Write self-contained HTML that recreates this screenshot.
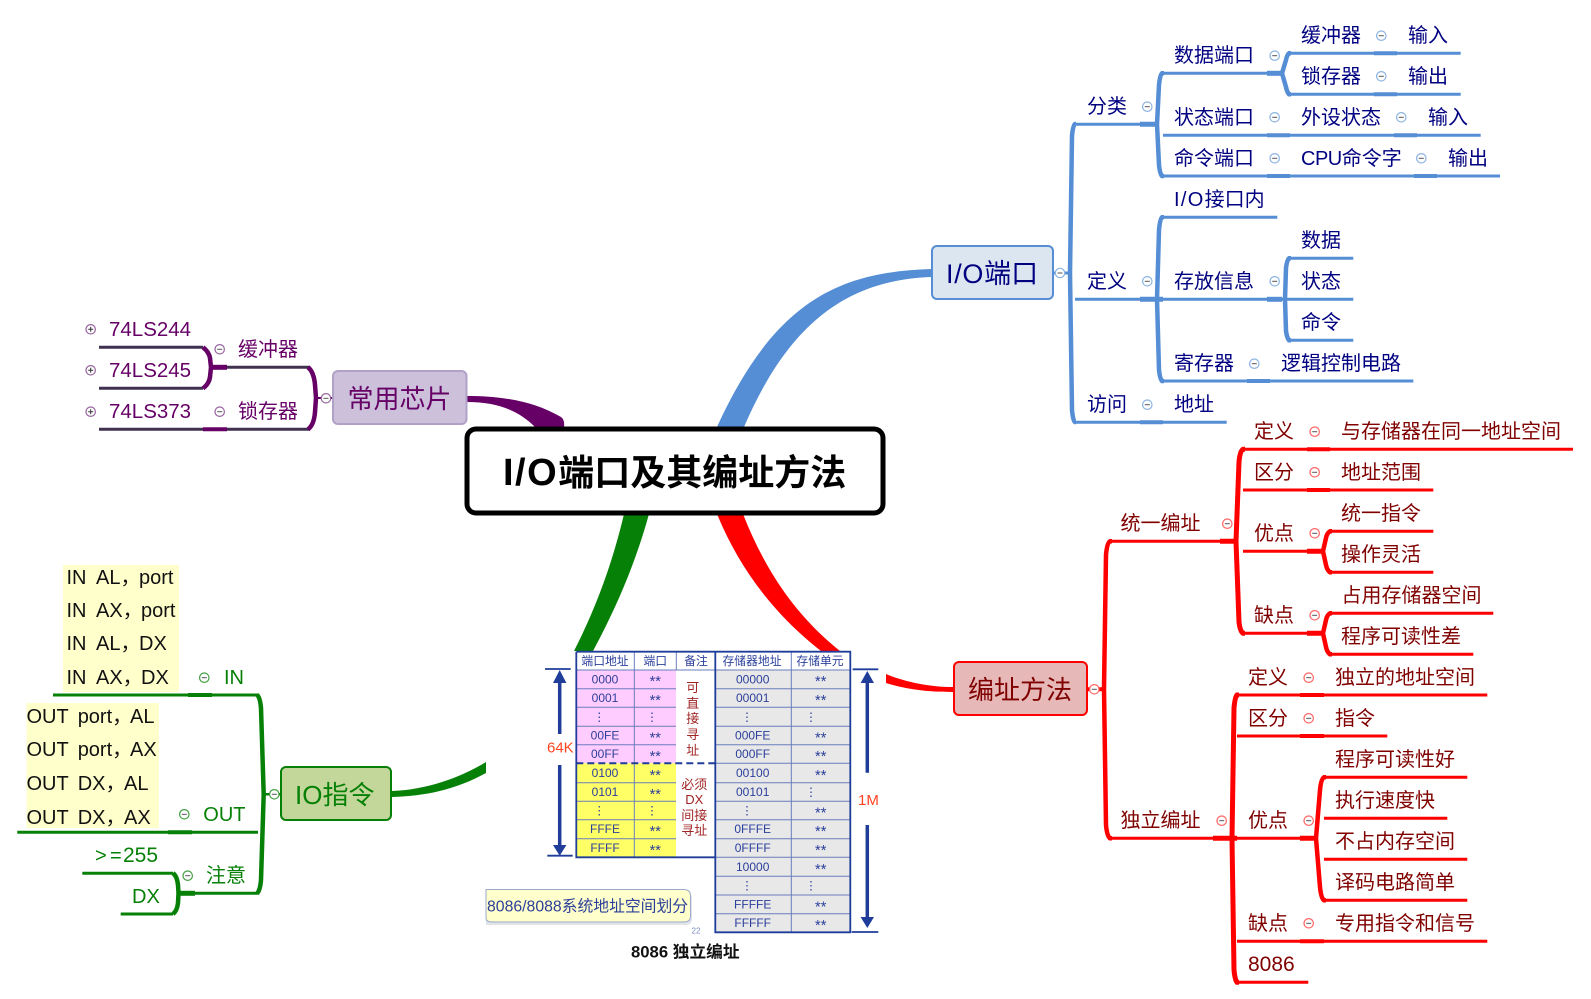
<!DOCTYPE html>
<html><head><meta charset="utf-8"><style>
html,body{margin:0;padding:0;background:#fff}
svg{display:block}
text{font-family:"Liberation Sans","Noto Sans CJK SC",sans-serif}
.tb text{font-size:20px;fill:#000080}
.tr text{font-size:20px;fill:#800000}
.tg text{font-size:20px;fill:#078007}
.tp text{font-size:20px;fill:#660066}
.tk text{font-size:20px;fill:#111}
.lb path{fill:none;stroke:#558ED5;stroke-width:3}
.lr path{fill:none;stroke:#FF0000;stroke-width:3}
.lg path{fill:none;stroke:#078007;stroke-width:3}
.lp path{fill:none;stroke:#403151;stroke-width:3}
.n{font-size:12px;fill:#2b3f9b;text-anchor:middle}
.a{font-size:14.5px;fill:#2b3f9b;text-anchor:middle}
.h{font-size:11.8px;fill:#2b3f9b;text-anchor:middle}
.m{font-size:13px;fill:#a02525;text-anchor:middle}
</style></head><body>
<svg width="1591" height="999" viewBox="0 0 1591 999" xmlns="http://www.w3.org/2000/svg">
<defs>
<g id="m"><circle r="4.7" fill="#fff" stroke="currentColor" stroke-width="1.2"/><path d="M-2.5 0H2.5" stroke="#555" stroke-width="1"/></g>
<g id="p"><circle r="4.7" fill="#fff" stroke="currentColor" stroke-width="1.2"/><path d="M-2.5 0H2.5M0 -2.5V2.5" stroke="#333" stroke-width="1"/></g>
</defs>

<!-- main connectors -->
<path d="M931 269C840 272 775 300 717 427L744 427C790 320 850 280 931 277Z" fill="#558ED5"/>
<path d="M467 396C505 396 535 402 561 417Q565 420 564 427L535 427C520 412 500 402 467 402Z" fill="#660066"/>
<path d="M624 514L649 514C635 565 615 610 593 651L574 651C595 610 612 565 624 514Z" fill="#078007"/>
<path d="M392 791C425 790 460 778 486 762L486 773C455 790 425 796 392 797Z" fill="#078007"/>
<path d="M717 514L743 514C765 570 795 615 840 651L821 651C775 615 740 570 717 514Z" fill="#FF0000"/>
<path d="M886 674C905 682 930 687 953 687L953 692C925 692 905 689 886 683Z" fill="#FF0000"/>

<!-- center -->
<rect x="467" y="429" width="416" height="84" rx="9" fill="#fff" stroke="#000" stroke-width="5"/>
<text x="503" y="485" font-size="36" font-weight="bold" fill="#000"><tspan font-size="38" letter-spacing="1.5">I/O</tspan>端口及其编址方法</text>

<!-- BLUE -->
<rect x="932" y="246" width="121" height="53" rx="5" fill="#DCE6F1" stroke="#558ED5" stroke-width="2"/>
<text x="946" y="283" font-size="27" fill="#000080"><tspan letter-spacing=".7">I/O</tspan>端口</text>
<g class="lb">
<path d="M1053 273H1070"/>
<path d="M1076 124H1075Q1073 125 1072 136L1070 273L1072 410Q1073 421 1075 422H1076" style="stroke-width:4.5"/>
<path d="M1075 124.300H1157M1075 299.300H1157M1075 422.300H1226.700"/>
<path d="M1140 124.300H1157M1140 299.300H1163" style="stroke-width:5"/>
<path d="M1140 422.300H1163" style="stroke-width:4"/>
<path d="M1164 73.300H1162Q1160 75 1159 85L1157 124.300L1159 165Q1160 174 1162 176H1164" style="stroke-width:4.500"/>
<path d="M1164 217.300H1162Q1160 219 1159 230L1157 299.300L1159 370Q1160 379 1162 381H1164" style="stroke-width:4.500"/>
<path d="M1163 73.300H1282"/><path d="M1267 73.300H1282" style="stroke-width:5"/>
<path d="M1163 135.300H1480.700"/><path d="M1267 135.300H1290M1394 135.300H1417" style="stroke-width:4"/>
<path d="M1163 176H1500"/><path d="M1267 176H1290M1414 176H1437" style="stroke-width:4"/>
<path d="M1163 217.300H1277.300"/>
<path d="M1163 299.300H1353.300"/><path d="M1267 299.300H1282" style="stroke-width:5"/>
<path d="M1163 381H1413.300"/><path d="M1247 381H1270" style="stroke-width:4"/>
<path d="M1291 53.300H1289Q1287 55 1286 60L1282 73.300L1286 87Q1287 92 1289 94.300H1291" style="stroke-width:4.500"/>
<path d="M1290 53.300H1460.700M1290 94.300H1460.700"/><path d="M1374 53.300H1397M1374 94.300H1397" style="stroke-width:4"/>
<path d="M1291 258.300H1289Q1287 260 1286 268L1285 299.300L1286 331Q1287 338 1289 340.300H1291" style="stroke-width:4.500"/>
<path d="M1290 258.300H1353.300M1290 340.300H1353.300"/>
</g>
<g class="tb">
<text x="1087" y="113">分类</text><text x="1087" y="288">定义</text><text x="1087" y="411">访问</text>
<text x="1174" y="62">数据端口</text><text x="1174" y="124">状态端口</text><text x="1174" y="165">命令端口</text>
<text x="1174" y="206"><tspan letter-spacing="1.3">I/O</tspan>接口内</text><text x="1174" y="288">存放信息</text><text x="1174" y="370">寄存器</text><text x="1174" y="411">地址</text>
<text x="1301" y="42">缓冲器</text><text x="1408" y="42">输入</text>
<text x="1301" y="83">锁存器</text><text x="1408" y="83">输出</text>
<text x="1301" y="124">外设状态</text><text x="1428" y="124">输入</text>
<text x="1301" y="165"><tspan letter-spacing="-.5">CPU</tspan>命令字</text><text x="1448" y="165">输出</text>
<text x="1301" y="247">数据</text><text x="1301" y="288">状态</text><text x="1301" y="329">命令</text>
<text x="1281" y="370">逻辑控制电路</text>
</g>
<g style="color:#8DB4E2">
<use href="#m" x="1060" y="273"/><use href="#m" x="1147.300" y="106.700"/><use href="#m" x="1147.300" y="281.300"/><use href="#m" x="1147.300" y="404.700"/>
<use href="#m" x="1274.700" y="55.700"/><use href="#m" x="1274.700" y="117.300"/><use href="#m" x="1274.700" y="158.300"/><use href="#m" x="1274.700" y="281.300"/><use href="#m" x="1254.300" y="363.700"/>
<use href="#m" x="1381.300" y="35.700"/><use href="#m" x="1381.300" y="76.300"/><use href="#m" x="1401.300" y="117.300"/><use href="#m" x="1421.300" y="158.300"/>
</g>

<!-- RED -->
<rect x="954" y="662" width="133" height="53" rx="5" fill="#E6B9B8" stroke="#FF0000" stroke-width="2"/>
<text x="968" y="699" font-size="26" fill="#800000">编址方法</text>
<g class="lr">
<path d="M1087 689.300H1104" style="stroke-width:4"/>
<path d="M1112 541.300H1110Q1107 543 1106 555L1104 689L1106 825Q1107 836 1110 838.300H1112" style="stroke-width:4.500"/>
<path d="M1110 541.300H1236M1110 838.300H1316"/>
<path d="M1220 541.300H1236M1213 838.300H1237M1300 838.300H1316" style="stroke-width:5"/>
<path d="M1245 449.300H1243Q1240 451 1239 462L1236 541.300L1239 622Q1240 631 1243 633.300H1245" style="stroke-width:5"/>
<path d="M1243 449.300H1573M1243 490H1433.300M1243 551.300H1323M1243 633.300H1323"/>
<path d="M1307 449.300H1330M1307 490H1330" style="stroke-width:4"/><path d="M1307 551.300H1323M1307 633.300H1323" style="stroke-width:5"/>
<path d="M1332 531.300H1330Q1327 533 1326 538L1323 551.300L1326 565Q1327 570 1330 572.300H1332" style="stroke-width:4.500"/>
<path d="M1330 531.300H1433.300M1330 572.300H1433.300M1330 613.300H1493.300M1330 654.300H1473.300"/>
<path d="M1332 613.300H1330Q1327 615 1326 620L1323 633.300L1326 647Q1327 652 1330 654.300H1332" style="stroke-width:4.500"/>
<path d="M1239 695H1237Q1235 697 1234 708L1232 838.300L1234 970Q1235 980 1237 982.300H1239" style="stroke-width:5"/>
<path d="M1237 695H1487.300M1237 736H1387.300M1237 941.300H1487.300M1237 982.300H1308.300"/>
<path d="M1300 695H1324M1300 736H1324M1300 941.300H1324" style="stroke-width:4"/>
<path d="M1326 777.300H1324Q1321 779 1320 790L1316 838.300L1320 887Q1321 898 1324 900.300H1326" style="stroke-width:4.500"/>
<path d="M1324 777.300H1467.300M1324 818.300H1447.300M1324 859.300H1467.300M1324 900.300H1467.300"/>
</g>
<g class="tr">
<text x="1120.500" y="530">统一编址</text><text x="1120.500" y="827">独立编址</text>
<text x="1254" y="438">定义</text><text x="1254" y="479">区分</text><text x="1254" y="540">优点</text><text x="1254" y="622">缺点</text>
<text x="1341" y="438">与存储器在同一地址空间</text><text x="1341" y="479">地址范围</text><text x="1341" y="520">统一指令</text><text x="1341" y="561">操作灵活</text><text x="1341.500" y="602">占用存储器空间</text><text x="1341" y="643">程序可读性差</text>
<text x="1248" y="684">定义</text><text x="1248" y="725">区分</text><text x="1248" y="827">优点</text><text x="1248" y="930">缺点</text><text x="1248" y="971" font-size="21" style="font-size:21px">8086</text>
<text x="1335" y="684">独立的地址空间</text><text x="1335" y="725">指令</text><text x="1335" y="766">程序可读性好</text><text x="1335" y="807">执行速度快</text><text x="1335" y="848">不占内存空间</text><text x="1335" y="889">译码电路简单</text><text x="1335" y="930">专用指令和信号</text>
</g>
<g style="color:#FF6666">
<use href="#m" x="1094.300" y="689.300"/><use href="#m" x="1227.300" y="523.700"/><use href="#m" x="1221.700" y="820.700"/>
<use href="#m" x="1314.700" y="431.700"/><use href="#m" x="1314.700" y="472.300"/><use href="#m" x="1314.700" y="533.300"/><use href="#m" x="1314.700" y="615.300"/>
<use href="#m" x="1308.700" y="677.700"/><use href="#m" x="1308.700" y="718.300"/><use href="#m" x="1308.700" y="820.700"/><use href="#m" x="1308.700" y="923.300"/>
</g>

<!-- PURPLE -->
<rect x="333" y="371" width="133.500" height="53" rx="5" fill="#CCC0DA" stroke="#B1A0C7" stroke-width="2"/>
<text x="347.500" y="408" font-size="26" fill="#660066">常用芯片</text>
<g class="lp">
<path d="M99 347.300H203M99 388.300H203M99 429.300H310M227 367.300H310"/>
<path d="M203 429.300H227" style="stroke:#660066;stroke-width:4"/>
<path d="M212 367.300H227" style="stroke:#660066;stroke-width:5"/>
<path d="M203 347.300Q209 352 210 358L211 367.300L210 377Q209 384 203 388.300" style="stroke:#660066;stroke-width:4.500"/>
<path d="M308 367.300Q314 372 315 385L316 398L315 412Q314 425 308 429.300" style="stroke:#660066;stroke-width:4.500"/>
<path d="M316 398H332" style="stroke:#660066;stroke-width:2"/>
</g>
<g class="tp">
<text x="109" y="336" style="font-size:20.500px">74LS244</text><text x="109" y="377" style="font-size:20.500px">74LS245</text><text x="109" y="418" style="font-size:20.500px">74LS373</text>
<text x="238" y="356">缓冲器</text><text x="238" y="418">锁存器</text>
</g>
<g style="color:#9966A0">
<use href="#p" x="90.700" y="329.300"/><use href="#p" x="90.700" y="370.300"/><use href="#p" x="90.700" y="411.700"/>
<use href="#m" x="219.700" y="349.300"/><use href="#m" x="219.700" y="411.700"/><use href="#m" x="326" y="398.300"/>
</g>

<!-- GREEN -->
<rect x="63" y="565" width="116" height="127" fill="#FFFFCC"/>
<rect x="26.500" y="703" width="132.500" height="125" fill="#FFFFCC"/>
<g class="tk">
<text x="66.500" y="584">IN</text><text x="96" y="584">AL，</text><text x="139" y="584">port</text>
<text x="66.500" y="617">IN</text><text x="96" y="617">AX，</text><text x="141" y="617">port</text>
<text x="66.500" y="650">IN</text><text x="96" y="650">AL，</text><text x="139" y="650">DX</text>
<text x="66.500" y="684">IN</text><text x="96" y="684">AX，</text><text x="141" y="684">DX</text>
<text x="26.500" y="723">OUT</text><text x="77.700" y="723">port，</text><text x="130" y="723">AL</text>
<text x="26.500" y="756">OUT</text><text x="77.700" y="756">port，</text><text x="130" y="756">AX</text>
<text x="26.500" y="790">OUT</text><text x="77.700" y="790">DX，</text><text x="124" y="790">AL</text>
<text x="26.500" y="824">OUT</text><text x="77.700" y="824">DX，</text><text x="124" y="824">AX</text>
</g>
<rect x="281" y="767" width="110" height="53" rx="5" fill="#C4D79B" stroke="#078007" stroke-width="2"/>
<text x="295" y="804" font-size="26" fill="#078007">IO指令</text>
<g class="lg">
<path d="M264 794.300H281" style="stroke-width:2.500"/>
<path d="M53 695H258M17.300 832.300H258M82.300 873.300H173M120.700 914H173M180 893.300H258"/>
<path d="M188 695H212M168 832.300H192" style="stroke-width:4"/>
<path d="M180 893.300H195" style="stroke-width:5"/>
<path d="M257 695Q260 697 261 708L263.700 794.300L261 880Q260 891 257 893.300" style="stroke-width:4.500"/>
<path d="M173 873.300Q177 876 178 885L178.500 893.300L178 903Q177 911 173 914" style="stroke-width:4.500"/>
</g>
<g class="tg">
<text x="224" y="684">IN</text><text x="203.300" y="821">OUT</text><text x="206" y="882">注意</text>
<text x="95" y="862">&gt;</text><text x="110" y="862">=</text><text x="123" y="862" style="font-size:21px">255</text><text x="132" y="903">DX</text>
</g>
<g style="color:#44A044">
<use href="#m" x="204.300" y="677.700"/><use href="#m" x="184.300" y="814.300"/><use href="#m" x="187.700" y="875.700"/><use href="#m" x="274.300" y="794.300"/>
</g>

<!-- TABLE IMAGE -->
<rect x="576" y="670" width="100" height="93.300" fill="#FFCCFF"/>
<rect x="576" y="763.300" width="100" height="94" fill="#FFFF66"/>
<rect x="715" y="670" width="135" height="262.300" fill="#E8E8E8"/>
<g fill="none" stroke="#6A7DBD" stroke-width="1">
<path d="M576 670H850M576 688.700H676M576 707.300H676M576 726.300H676M576 744.700H676M576 782.700H676M576 801.300H676M576 819.700H676M576 838.700H676"/>
<path d="M715 688.700H850M715 707.300H850M715 726.300H850M715 744.700H850M715 763.300H850M715 782.700H850M715 801.300H850M715 819.700H850M715 838.700H850M715 857.300H850M715 876.300H850M715 895H850M715 913.700H850"/>
<path d="M634.300 652V857M676.300 652V670M791.300 652V932"/>
</g>
<g fill="none" stroke="#1F3D99" stroke-width="1.800">
<path d="M576.300 651.700H850.300V932.300H715.300V651.700M576.300 651.700V857.300H715.300"/>
<path d="M576.300 763.300H715" stroke-width="2" stroke-dasharray="7 4"/>
</g>
<text class="h" x="605" y="665">端口地址</text><text class="h" x="655.300" y="665">端口</text><text class="h" x="696" y="665">备注</text><text class="h" x="752" y="665">存储器地址</text><text class="h" x="820" y="665">存储单元</text>

<text class="n" x="605" y="683.300">0000</text><text class="a" x="655.300" y="686">**</text>
<text class="n" x="605" y="702">0001</text><text class="a" x="655.300" y="705">**</text>
<text class="n" x="599.300" y="720.800">⋮</text><text class="n" x="652" y="720.800">⋮</text>
<text class="n" x="605" y="739.500">00FE</text><text class="a" x="655.300" y="742.500">**</text>
<text class="n" x="605" y="758">00FF</text><text class="a" x="655.300" y="761">**</text>
<text class="n" x="605" y="777">0100</text><text class="a" x="655.300" y="780">**</text>
<text class="n" x="605" y="796">0101</text><text class="a" x="655.300" y="799">**</text>
<text class="n" x="599.300" y="814.500">⋮</text><text class="n" x="652" y="814.500">⋮</text>
<text class="n" x="605" y="833.200">FFFE</text><text class="a" x="655.300" y="836">**</text>
<text class="n" x="605" y="852">FFFF</text><text class="a" x="655.300" y="855">**</text>

<text class="m" x="692.700" y="692">可</text><text class="m" x="692.700" y="708">直</text><text class="m" x="692.700" y="723">接</text><text class="m" x="692.700" y="739">寻</text><text class="m" x="692.700" y="755">址</text>
<text class="m" x="694.300" y="789">必须</text><text class="m" x="694.300" y="804">DX</text><text class="m" x="694.300" y="820">间接</text><text class="m" x="694.300" y="835">寻址</text>

<text class="n" x="752.700" y="683.300">00000</text><text class="a" x="820.700" y="686">**</text>
<text class="n" x="752.700" y="702">00001</text><text class="a" x="820.700" y="705">**</text>
<text class="n" x="747" y="720.800">⋮</text><text class="n" x="811" y="720.800">⋮</text>
<text class="n" x="752.700" y="739.500">000FE</text><text class="a" x="820.700" y="742.500">**</text>
<text class="n" x="752.700" y="758">000FF</text><text class="a" x="820.700" y="761">**</text>
<text class="n" x="752.700" y="777">00100</text><text class="a" x="820.700" y="780">**</text>
<text class="n" x="752.700" y="796">00101</text><text class="n" x="811" y="796">⋮</text>
<text class="n" x="747" y="814.500">⋮</text><text class="a" x="820.700" y="817.500">**</text>
<text class="n" x="752.700" y="833.200">0FFFE</text><text class="a" x="820.700" y="836">**</text>
<text class="n" x="752.700" y="852">0FFFF</text><text class="a" x="820.700" y="855">**</text>
<text class="n" x="752.700" y="870.800">10000</text><text class="a" x="820.700" y="874">**</text>
<text class="n" x="747" y="889.600">⋮</text><text class="n" x="811" y="889.600">⋮</text>
<text class="n" x="752.700" y="908.300">FFFFE</text><text class="a" x="820.700" y="911.300">**</text>
<text class="n" x="752.700" y="927">FFFFF</text><text class="a" x="820.700" y="930">**</text>

<!-- dimension arrows -->
<g stroke="#1F3D99" fill="none">
<path d="M545 669H570.700M547.300 855.700H572.700M852.700 669.300H878.300M851.700 932H878.300" stroke-width="1.800"/>
<path d="M559.700 680V734M559.700 765V847M867.300 680V772.700M867.300 825V919" stroke-width="3.500"/>
</g>
<path d="M559.700 670L553 683H566.400ZM559.700 855.700L553 845H566.400ZM867.300 671L860.600 683H874ZM867.300 928L860.600 917H874Z" fill="#1F3D99"/>
<text x="547" y="752.500" font-size="15" fill="#FF4422">64K</text>
<text x="858" y="805" font-size="15" fill="#FF4422">1M</text>

<!-- callout -->
<path d="M486 892H686Q692 892 692 899V919Q692 925 686 925H486Z" fill="#E2E4EA"/>
<path d="M486 889.500H684Q690.500 889.500 690.500 896V916Q690.500 922 684 922H492Q486 922 486 918Z" fill="#FFFFCC" stroke="#9AA9CC" stroke-width="1"/>
<text x="487" y="911.500" font-size="15.800" fill="#2b3f9b">8086/8088系统地址空间划分</text>
<text x="691.500" y="933.500" font-size="8" fill="#7c8bc0">22</text>
<text x="631" y="957.500" font-size="16.700" font-weight="bold" fill="#111">8086 独立编址</text>
</svg>
</body></html>
